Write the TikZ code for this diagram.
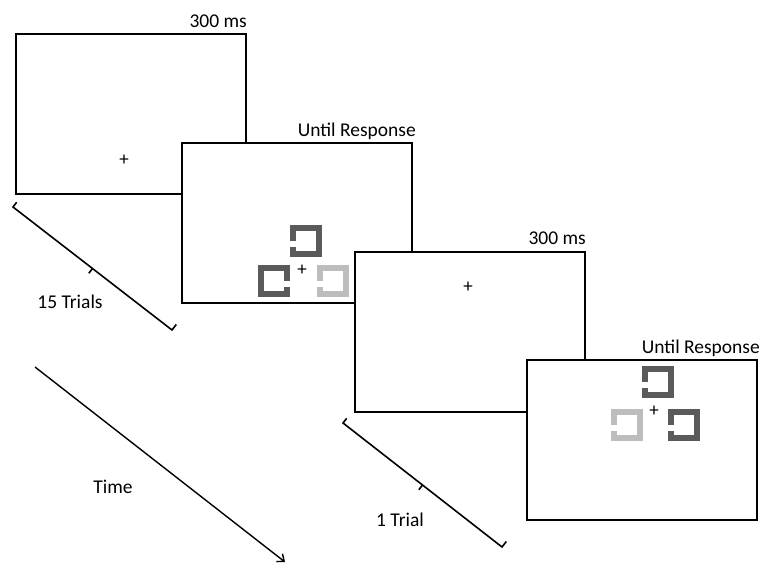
\documentclass[tikz,border=0pt]{standalone}
\usepackage{fontspec}
\setmainfont{Carlito}
\usepackage{tikz}
\usetikzlibrary{arrows.meta,calc}
\definecolor{cuedark}{HTML}{5A5A5A}
\definecolor{cuelight}{HTML}{BDBDBD}

% cue square: centre, colour, open side (1 = gap on the left, -1 = gap on the right)
\newcommand{\drawcue}[3]{%
  \draw[line width=6pt,#2] ($(#1)+(-13*#3,6)$) -- ++(0,7) -- ++(26*#3,0) -- ++(0,-26) -- ++(-26*#3,0) -- ++(0,13);
}

\begin{document}
\begin{tikzpicture}[x=1pt,y=-1pt,
  every node/.style={font=\fontsize{19.5}{23}\selectfont},
  screen/.style={draw,fill=white,line width=2pt,minimum width=230pt,minimum height=160pt,inner sep=0pt},
  dur/.style={anchor=base east,inner sep=0pt},
  fix/.style={font=\fontsize{19}{19}\selectfont,inner sep=0pt},
  trial/.style={line width=1.6pt}]
  \useasboundingbox (0,0) rectangle (759,565);
  % screens
  \node[screen] (f1) at (131,114) {};
  \node[screen] (f2) at (297,223) {};
  \node[screen] (f3) at (470,332) {};
  \node[screen] (f4) at (642,440) {};
  % durations
  \node[dur] (d1) at ([yshift=6pt]f1.north east) {300 ms};
  \node[dur] (d2) at ([xshift=3pt,yshift=6pt]f2.north east) {Until Response};
  \node[dur] (d3) at ([yshift=7pt]f3.north east) {300 ms};
  \node[dur] (d4) at ([xshift=2pt,yshift=6pt]f4.north east) {Until Response};
  % fixation crosses
  \node[fix] (x1) at (124,160) {+};
  \node[fix] (x2) at (302,270) {+};
  \node[fix] (x3) at (468,287) {+};
  \node[fix] (x4) at (654,411) {+};
  % cues
  \drawcue{306,241}{cuedark}{1}
  \drawcue{274,281}{cuedark}{-1}
  \drawcue{333,281}{cuelight}{1}
  \drawcue{658,382}{cuedark}{1}
  \drawcue{627,425}{cuelight}{1}
  \drawcue{684,425}{cuedark}{1}
  % trial brackets
  \coordinate (b1s) at (13,207); \coordinate (b1e) at (172,330);
  \coordinate (b2s) at (343,423); \coordinate (b2e) at (502,547);
  \foreach \tb in {b1,b2} {
    \coordinate (\tb m) at ($(\tb s)!0.5!(\tb e)$);
    \draw[trial] ($(\tb s)!6pt!90:(\tb e)$) -- (\tb s) -- (\tb e) -- ($(\tb e)!7pt!-90:(\tb s)$);
    \draw[trial] (\tb m) -- ($(\tb m)!6pt!-90:(\tb e)$);
  }
  \node (n15) at (70,302) {15 Trials};
  \node (n1) at (400,520) {1 Trial};
  % time
  \coordinate (t0) at (35,367); \coordinate (t1) at (285,562);
  \draw[line width=1.4pt,-{Straight Barb[length=6pt,width=10pt]}] (t0) -- (t1);
  \node (time) at (113,487) {Time};
\end{tikzpicture}
\end{document}
